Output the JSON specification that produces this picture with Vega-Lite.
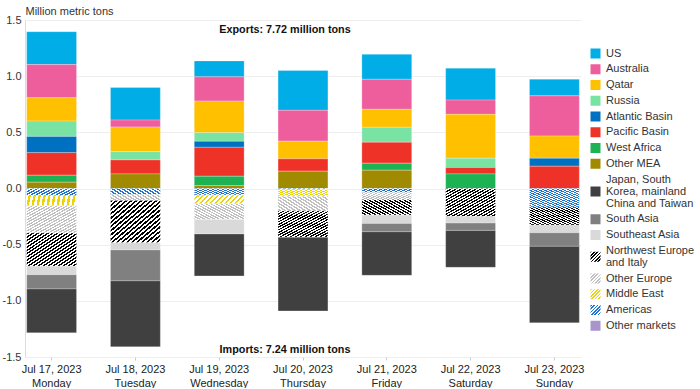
{
  "$schema": "https://vega.github.io/schema/vega-lite/v6.json",
  "width": 556,
  "height": 337,
  "padding": {"left": 2, "top": 5, "right": 0, "bottom": 0},
  "config": {
    "font": "Liberation Sans",
    "view": {"stroke": null},
    "axis": {"labelColor": "#333", "titleColor": "#333", "labelFontSize": 11},
    "legend": {"labelColor": "#333"}
  },
  "layer": [
    {
      "data": {
        "values": [
          {"date": "Jul 17, 2023|Monday", "region": "US", "value": 0.293},
          {"date": "Jul 17, 2023|Monday", "region": "Australia", "value": 0.296},
          {"date": "Jul 17, 2023|Monday", "region": "Qatar", "value": 0.207},
          {"date": "Jul 17, 2023|Monday", "region": "Russia", "value": 0.136},
          {"date": "Jul 17, 2023|Monday", "region": "Atlantic Basin", "value": 0.145},
          {"date": "Jul 17, 2023|Monday", "region": "Pacific Basin", "value": 0.201},
          {"date": "Jul 17, 2023|Monday", "region": "West Africa", "value": 0.062},
          {"date": "Jul 17, 2023|Monday", "region": "Other MEA", "value": 0.056},
          {"date": "Jul 17, 2023|Monday", "region": "Americas", "value": -0.065},
          {"date": "Jul 17, 2023|Monday", "region": "Middle East", "value": -0.086},
          {"date": "Jul 17, 2023|Monday", "region": "Other Europe", "value": -0.246},
          {"date": "Jul 17, 2023|Monday", "region": "Northwest Europe and Italy", "value": -0.296},
          {"date": "Jul 17, 2023|Monday", "region": "Southeast Asia", "value": -0.074},
          {"date": "Jul 17, 2023|Monday", "region": "South Asia", "value": -0.127},
          {"date": "Jul 17, 2023|Monday", "region": "Japan, South Korea, mainland China and Taiwan", "value": -0.391},
          {"date": "Jul 18, 2023|Tuesday", "region": "US", "value": 0.290},
          {"date": "Jul 18, 2023|Tuesday", "region": "Australia", "value": 0.062},
          {"date": "Jul 18, 2023|Tuesday", "region": "Qatar", "value": 0.219},
          {"date": "Jul 18, 2023|Tuesday", "region": "Russia", "value": 0.074},
          {"date": "Jul 18, 2023|Tuesday", "region": "Pacific Basin", "value": 0.124},
          {"date": "Jul 18, 2023|Tuesday", "region": "Other MEA", "value": 0.130},
          {"date": "Jul 18, 2023|Tuesday", "region": "Americas", "value": -0.053},
          {"date": "Jul 18, 2023|Tuesday", "region": "Other Europe", "value": -0.053},
          {"date": "Jul 18, 2023|Tuesday", "region": "Northwest Europe and Italy", "value": -0.376},
          {"date": "Jul 18, 2023|Tuesday", "region": "Southeast Asia", "value": -0.065},
          {"date": "Jul 18, 2023|Tuesday", "region": "South Asia", "value": -0.275},
          {"date": "Jul 18, 2023|Tuesday", "region": "Japan, South Korea, mainland China and Taiwan", "value": -0.587},
          {"date": "Jul 19, 2023|Wednesday", "region": "US", "value": 0.142},
          {"date": "Jul 19, 2023|Wednesday", "region": "Australia", "value": 0.216},
          {"date": "Jul 19, 2023|Wednesday", "region": "Qatar", "value": 0.281},
          {"date": "Jul 19, 2023|Wednesday", "region": "Russia", "value": 0.077},
          {"date": "Jul 19, 2023|Wednesday", "region": "Atlantic Basin", "value": 0.053},
          {"date": "Jul 19, 2023|Wednesday", "region": "Pacific Basin", "value": 0.258},
          {"date": "Jul 19, 2023|Wednesday", "region": "West Africa", "value": 0.083},
          {"date": "Jul 19, 2023|Wednesday", "region": "Other MEA", "value": 0.026},
          {"date": "Jul 19, 2023|Wednesday", "region": "Americas", "value": -0.059},
          {"date": "Jul 19, 2023|Wednesday", "region": "Middle East", "value": -0.074},
          {"date": "Jul 19, 2023|Wednesday", "region": "Other Europe", "value": -0.142},
          {"date": "Jul 19, 2023|Wednesday", "region": "Southeast Asia", "value": -0.130},
          {"date": "Jul 19, 2023|Wednesday", "region": "Japan, South Korea, mainland China and Taiwan", "value": -0.373},
          {"date": "Jul 20, 2023|Thursday", "region": "US", "value": 0.355},
          {"date": "Jul 20, 2023|Thursday", "region": "Australia", "value": 0.275},
          {"date": "Jul 20, 2023|Thursday", "region": "Qatar", "value": 0.157},
          {"date": "Jul 20, 2023|Thursday", "region": "Pacific Basin", "value": 0.110},
          {"date": "Jul 20, 2023|Thursday", "region": "Other MEA", "value": 0.154},
          {"date": "Jul 20, 2023|Thursday", "region": "Americas", "value": -0.008},
          {"date": "Jul 20, 2023|Thursday", "region": "Middle East", "value": -0.060},
          {"date": "Jul 20, 2023|Thursday", "region": "Other Europe", "value": -0.130},
          {"date": "Jul 20, 2023|Thursday", "region": "Northwest Europe and Italy", "value": -0.237},
          {"date": "Jul 20, 2023|Thursday", "region": "Japan, South Korea, mainland China and Taiwan", "value": -0.655},
          {"date": "Jul 21, 2023|Friday", "region": "US", "value": 0.222},
          {"date": "Jul 21, 2023|Friday", "region": "Australia", "value": 0.267},
          {"date": "Jul 21, 2023|Friday", "region": "Qatar", "value": 0.160},
          {"date": "Jul 21, 2023|Friday", "region": "Russia", "value": 0.133},
          {"date": "Jul 21, 2023|Friday", "region": "Pacific Basin", "value": 0.187},
          {"date": "Jul 21, 2023|Friday", "region": "West Africa", "value": 0.062},
          {"date": "Jul 21, 2023|Friday", "region": "Other MEA", "value": 0.163},
          {"date": "Jul 21, 2023|Friday", "region": "Americas", "value": -0.036},
          {"date": "Jul 21, 2023|Friday", "region": "Other Europe", "value": -0.062},
          {"date": "Jul 21, 2023|Friday", "region": "Northwest Europe and Italy", "value": -0.139},
          {"date": "Jul 21, 2023|Friday", "region": "Southeast Asia", "value": -0.074},
          {"date": "Jul 21, 2023|Friday", "region": "South Asia", "value": -0.074},
          {"date": "Jul 21, 2023|Friday", "region": "Japan, South Korea, mainland China and Taiwan", "value": -0.388},
          {"date": "Jul 22, 2023|Saturday", "region": "US", "value": 0.284},
          {"date": "Jul 22, 2023|Saturday", "region": "Australia", "value": 0.127},
          {"date": "Jul 22, 2023|Saturday", "region": "Qatar", "value": 0.391},
          {"date": "Jul 22, 2023|Saturday", "region": "Russia", "value": 0.083},
          {"date": "Jul 22, 2023|Saturday", "region": "Pacific Basin", "value": 0.056},
          {"date": "Jul 22, 2023|Saturday", "region": "West Africa", "value": 0.130},
          {"date": "Jul 22, 2023|Saturday", "region": "Northwest Europe and Italy", "value": -0.249},
          {"date": "Jul 22, 2023|Saturday", "region": "Southeast Asia", "value": -0.059},
          {"date": "Jul 22, 2023|Saturday", "region": "South Asia", "value": -0.065},
          {"date": "Jul 22, 2023|Saturday", "region": "Japan, South Korea, mainland China and Taiwan", "value": -0.329},
          {"date": "Jul 23, 2023|Sunday", "region": "US", "value": 0.148},
          {"date": "Jul 23, 2023|Sunday", "region": "Australia", "value": 0.358},
          {"date": "Jul 23, 2023|Sunday", "region": "Qatar", "value": 0.198},
          {"date": "Jul 23, 2023|Sunday", "region": "Atlantic Basin", "value": 0.071},
          {"date": "Jul 23, 2023|Sunday", "region": "Pacific Basin", "value": 0.198},
          {"date": "Jul 23, 2023|Sunday", "region": "Americas", "value": -0.166},
          {"date": "Jul 23, 2023|Sunday", "region": "Northwest Europe and Italy", "value": -0.160},
          {"date": "Jul 23, 2023|Sunday", "region": "Southeast Asia", "value": -0.068},
          {"date": "Jul 23, 2023|Sunday", "region": "South Asia", "value": -0.121},
          {"date": "Jul 23, 2023|Sunday", "region": "Japan, South Korea, mainland China and Taiwan", "value": -0.681}
        ]
      },
      "transform": [
        {"calculate": "indexof(['Other MEA','West Africa','Pacific Basin','Atlantic Basin','Russia','Qatar','Australia','US','Americas','Middle East','Other Europe','Northwest Europe and Italy','Southeast Asia','South Asia','Japan, South Korea, mainland China and Taiwan','Other markets'], datum.region)", "as": "ord"}
      ],
      "mark": {"type": "bar", "stroke": "#ffffff", "strokeWidth": 0.5, "strokeOpacity": 0.5},
      "encoding": {
        "x": {
          "field": "date", "type": "nominal", "sort": null,
          "scale": {"paddingInner": 0.405, "paddingOuter": 0.02},
          "axis": {"title": null, "labelExpr": "split(datum.label, '|')", "labelAngle": 0, "domain": false, "grid": false, "tickSize": 3, "tickColor": "#cccccc", "labelLineHeight": 14, "labelPadding": 3, "labelColor": "#222"}
        },
        "y": {
          "field": "value", "type": "quantitative", "stack": "zero",
          "scale": {"domain": [-1.5, 1.5], "nice": false},
          "axis": {"values": [-1.5, -1, -0.5, 0, 0.5, 1, 1.5], "labelExpr": "replace(format(datum.value, '.1f'), '\u2212', '-')", "title": "Million metric tons", "titleAngle": 0, "titleX": 0, "titleY": -4, "titleAlign": "left", "titleBaseline": "bottom", "titleFontWeight": "normal", "titleFontSize": 11, "ticks": false, "domain": true, "domainColor": "#dddddd", "gridColor": "#eeeeee", "labelPadding": 4}
        },
        "fill": {
          "field": "region", "type": "nominal",
          "condition": [
            {"test": "datum.region === 'Northwest Europe and Italy'", "value": {"gradient": "linear", "x1": 0, "y1": 0, "x2": 1, "y2": 1, "stops": [
                {"offset":0,"color":"#000"},{"offset":0.025,"color":"#000"},{"offset":0.025,"color":"#fff"},{"offset":0.05,"color":"#fff"},
                {"offset":0.05,"color":"#000"},{"offset":0.075,"color":"#000"},{"offset":0.075,"color":"#fff"},{"offset":0.1,"color":"#fff"},
                {"offset":0.1,"color":"#000"},{"offset":0.125,"color":"#000"},{"offset":0.125,"color":"#fff"},{"offset":0.15,"color":"#fff"},
                {"offset":0.15,"color":"#000"},{"offset":0.175,"color":"#000"},{"offset":0.175,"color":"#fff"},{"offset":0.2,"color":"#fff"},
                {"offset":0.2,"color":"#000"},{"offset":0.225,"color":"#000"},{"offset":0.225,"color":"#fff"},{"offset":0.25,"color":"#fff"},
                {"offset":0.25,"color":"#000"},{"offset":0.275,"color":"#000"},{"offset":0.275,"color":"#fff"},{"offset":0.3,"color":"#fff"},
                {"offset":0.3,"color":"#000"},{"offset":0.325,"color":"#000"},{"offset":0.325,"color":"#fff"},{"offset":0.35,"color":"#fff"},
                {"offset":0.35,"color":"#000"},{"offset":0.375,"color":"#000"},{"offset":0.375,"color":"#fff"},{"offset":0.4,"color":"#fff"},
                {"offset":0.4,"color":"#000"},{"offset":0.425,"color":"#000"},{"offset":0.425,"color":"#fff"},{"offset":0.45,"color":"#fff"},
                {"offset":0.45,"color":"#000"},{"offset":0.475,"color":"#000"},{"offset":0.475,"color":"#fff"},{"offset":0.5,"color":"#fff"},
                {"offset":0.5,"color":"#000"},{"offset":0.525,"color":"#000"},{"offset":0.525,"color":"#fff"},{"offset":0.55,"color":"#fff"},
                {"offset":0.55,"color":"#000"},{"offset":0.575,"color":"#000"},{"offset":0.575,"color":"#fff"},{"offset":0.6,"color":"#fff"},
                {"offset":0.6,"color":"#000"},{"offset":0.625,"color":"#000"},{"offset":0.625,"color":"#fff"},{"offset":0.65,"color":"#fff"},
                {"offset":0.65,"color":"#000"},{"offset":0.675,"color":"#000"},{"offset":0.675,"color":"#fff"},{"offset":0.7,"color":"#fff"},
                {"offset":0.7,"color":"#000"},{"offset":0.725,"color":"#000"},{"offset":0.725,"color":"#fff"},{"offset":0.75,"color":"#fff"},
                {"offset":0.75,"color":"#000"},{"offset":0.775,"color":"#000"},{"offset":0.775,"color":"#fff"},{"offset":0.8,"color":"#fff"},
                {"offset":0.8,"color":"#000"},{"offset":0.825,"color":"#000"},{"offset":0.825,"color":"#fff"},{"offset":0.85,"color":"#fff"},
                {"offset":0.85,"color":"#000"},{"offset":0.875,"color":"#000"},{"offset":0.875,"color":"#fff"},{"offset":0.9,"color":"#fff"},
                {"offset":0.9,"color":"#000"},{"offset":0.925,"color":"#000"},{"offset":0.925,"color":"#fff"},{"offset":0.95,"color":"#fff"},
                {"offset":0.95,"color":"#000"},{"offset":0.975,"color":"#000"},{"offset":0.975,"color":"#fff"},{"offset":1,"color":"#fff"}]}},
            {"test": "datum.region === 'Other Europe'", "value": {"gradient": "linear", "x1": 0, "y1": 0, "x2": 1, "y2": 1, "stops": [
                {"offset":0,"color":"#bfbfbf"},{"offset":0.025,"color":"#bfbfbf"},{"offset":0.025,"color":"#fff"},{"offset":0.05,"color":"#fff"},
                {"offset":0.05,"color":"#bfbfbf"},{"offset":0.075,"color":"#bfbfbf"},{"offset":0.075,"color":"#fff"},{"offset":0.1,"color":"#fff"},
                {"offset":0.1,"color":"#bfbfbf"},{"offset":0.125,"color":"#bfbfbf"},{"offset":0.125,"color":"#fff"},{"offset":0.15,"color":"#fff"},
                {"offset":0.15,"color":"#bfbfbf"},{"offset":0.175,"color":"#bfbfbf"},{"offset":0.175,"color":"#fff"},{"offset":0.2,"color":"#fff"},
                {"offset":0.2,"color":"#bfbfbf"},{"offset":0.225,"color":"#bfbfbf"},{"offset":0.225,"color":"#fff"},{"offset":0.25,"color":"#fff"},
                {"offset":0.25,"color":"#bfbfbf"},{"offset":0.275,"color":"#bfbfbf"},{"offset":0.275,"color":"#fff"},{"offset":0.3,"color":"#fff"},
                {"offset":0.3,"color":"#bfbfbf"},{"offset":0.325,"color":"#bfbfbf"},{"offset":0.325,"color":"#fff"},{"offset":0.35,"color":"#fff"},
                {"offset":0.35,"color":"#bfbfbf"},{"offset":0.375,"color":"#bfbfbf"},{"offset":0.375,"color":"#fff"},{"offset":0.4,"color":"#fff"},
                {"offset":0.4,"color":"#bfbfbf"},{"offset":0.425,"color":"#bfbfbf"},{"offset":0.425,"color":"#fff"},{"offset":0.45,"color":"#fff"},
                {"offset":0.45,"color":"#bfbfbf"},{"offset":0.475,"color":"#bfbfbf"},{"offset":0.475,"color":"#fff"},{"offset":0.5,"color":"#fff"},
                {"offset":0.5,"color":"#bfbfbf"},{"offset":0.525,"color":"#bfbfbf"},{"offset":0.525,"color":"#fff"},{"offset":0.55,"color":"#fff"},
                {"offset":0.55,"color":"#bfbfbf"},{"offset":0.575,"color":"#bfbfbf"},{"offset":0.575,"color":"#fff"},{"offset":0.6,"color":"#fff"},
                {"offset":0.6,"color":"#bfbfbf"},{"offset":0.625,"color":"#bfbfbf"},{"offset":0.625,"color":"#fff"},{"offset":0.65,"color":"#fff"},
                {"offset":0.65,"color":"#bfbfbf"},{"offset":0.675,"color":"#bfbfbf"},{"offset":0.675,"color":"#fff"},{"offset":0.7,"color":"#fff"},
                {"offset":0.7,"color":"#bfbfbf"},{"offset":0.725,"color":"#bfbfbf"},{"offset":0.725,"color":"#fff"},{"offset":0.75,"color":"#fff"},
                {"offset":0.75,"color":"#bfbfbf"},{"offset":0.775,"color":"#bfbfbf"},{"offset":0.775,"color":"#fff"},{"offset":0.8,"color":"#fff"},
                {"offset":0.8,"color":"#bfbfbf"},{"offset":0.825,"color":"#bfbfbf"},{"offset":0.825,"color":"#fff"},{"offset":0.85,"color":"#fff"},
                {"offset":0.85,"color":"#bfbfbf"},{"offset":0.875,"color":"#bfbfbf"},{"offset":0.875,"color":"#fff"},{"offset":0.9,"color":"#fff"},
                {"offset":0.9,"color":"#bfbfbf"},{"offset":0.925,"color":"#bfbfbf"},{"offset":0.925,"color":"#fff"},{"offset":0.95,"color":"#fff"},
                {"offset":0.95,"color":"#bfbfbf"},{"offset":0.975,"color":"#bfbfbf"},{"offset":0.975,"color":"#fff"},{"offset":1,"color":"#fff"}]}},
            {"test": "datum.region === 'Middle East'", "value": {"gradient": "linear", "x1": 0, "y1": 0, "x2": 1, "y2": 1, "stops": [
                {"offset":0,"color":"#ecd400"},{"offset":0.025,"color":"#ecd400"},{"offset":0.025,"color":"#fff"},{"offset":0.05,"color":"#fff"},
                {"offset":0.05,"color":"#ecd400"},{"offset":0.075,"color":"#ecd400"},{"offset":0.075,"color":"#fff"},{"offset":0.1,"color":"#fff"},
                {"offset":0.1,"color":"#ecd400"},{"offset":0.125,"color":"#ecd400"},{"offset":0.125,"color":"#fff"},{"offset":0.15,"color":"#fff"},
                {"offset":0.15,"color":"#ecd400"},{"offset":0.175,"color":"#ecd400"},{"offset":0.175,"color":"#fff"},{"offset":0.2,"color":"#fff"},
                {"offset":0.2,"color":"#ecd400"},{"offset":0.225,"color":"#ecd400"},{"offset":0.225,"color":"#fff"},{"offset":0.25,"color":"#fff"},
                {"offset":0.25,"color":"#ecd400"},{"offset":0.275,"color":"#ecd400"},{"offset":0.275,"color":"#fff"},{"offset":0.3,"color":"#fff"},
                {"offset":0.3,"color":"#ecd400"},{"offset":0.325,"color":"#ecd400"},{"offset":0.325,"color":"#fff"},{"offset":0.35,"color":"#fff"},
                {"offset":0.35,"color":"#ecd400"},{"offset":0.375,"color":"#ecd400"},{"offset":0.375,"color":"#fff"},{"offset":0.4,"color":"#fff"},
                {"offset":0.4,"color":"#ecd400"},{"offset":0.425,"color":"#ecd400"},{"offset":0.425,"color":"#fff"},{"offset":0.45,"color":"#fff"},
                {"offset":0.45,"color":"#ecd400"},{"offset":0.475,"color":"#ecd400"},{"offset":0.475,"color":"#fff"},{"offset":0.5,"color":"#fff"},
                {"offset":0.5,"color":"#ecd400"},{"offset":0.525,"color":"#ecd400"},{"offset":0.525,"color":"#fff"},{"offset":0.55,"color":"#fff"},
                {"offset":0.55,"color":"#ecd400"},{"offset":0.575,"color":"#ecd400"},{"offset":0.575,"color":"#fff"},{"offset":0.6,"color":"#fff"},
                {"offset":0.6,"color":"#ecd400"},{"offset":0.625,"color":"#ecd400"},{"offset":0.625,"color":"#fff"},{"offset":0.65,"color":"#fff"},
                {"offset":0.65,"color":"#ecd400"},{"offset":0.675,"color":"#ecd400"},{"offset":0.675,"color":"#fff"},{"offset":0.7,"color":"#fff"},
                {"offset":0.7,"color":"#ecd400"},{"offset":0.725,"color":"#ecd400"},{"offset":0.725,"color":"#fff"},{"offset":0.75,"color":"#fff"},
                {"offset":0.75,"color":"#ecd400"},{"offset":0.775,"color":"#ecd400"},{"offset":0.775,"color":"#fff"},{"offset":0.8,"color":"#fff"},
                {"offset":0.8,"color":"#ecd400"},{"offset":0.825,"color":"#ecd400"},{"offset":0.825,"color":"#fff"},{"offset":0.85,"color":"#fff"},
                {"offset":0.85,"color":"#ecd400"},{"offset":0.875,"color":"#ecd400"},{"offset":0.875,"color":"#fff"},{"offset":0.9,"color":"#fff"},
                {"offset":0.9,"color":"#ecd400"},{"offset":0.925,"color":"#ecd400"},{"offset":0.925,"color":"#fff"},{"offset":0.95,"color":"#fff"},
                {"offset":0.95,"color":"#ecd400"},{"offset":0.975,"color":"#ecd400"},{"offset":0.975,"color":"#fff"},{"offset":1,"color":"#fff"}]}},
            {"test": "datum.region === 'Americas'", "value": {"gradient": "linear", "x1": 0, "y1": 0, "x2": 1, "y2": 1, "stops": [
                {"offset":0,"color":"#1a73d0"},{"offset":0.025,"color":"#1a73d0"},{"offset":0.025,"color":"#fff"},{"offset":0.05,"color":"#fff"},
                {"offset":0.05,"color":"#1a73d0"},{"offset":0.075,"color":"#1a73d0"},{"offset":0.075,"color":"#fff"},{"offset":0.1,"color":"#fff"},
                {"offset":0.1,"color":"#1a73d0"},{"offset":0.125,"color":"#1a73d0"},{"offset":0.125,"color":"#fff"},{"offset":0.15,"color":"#fff"},
                {"offset":0.15,"color":"#1a73d0"},{"offset":0.175,"color":"#1a73d0"},{"offset":0.175,"color":"#fff"},{"offset":0.2,"color":"#fff"},
                {"offset":0.2,"color":"#1a73d0"},{"offset":0.225,"color":"#1a73d0"},{"offset":0.225,"color":"#fff"},{"offset":0.25,"color":"#fff"},
                {"offset":0.25,"color":"#1a73d0"},{"offset":0.275,"color":"#1a73d0"},{"offset":0.275,"color":"#fff"},{"offset":0.3,"color":"#fff"},
                {"offset":0.3,"color":"#1a73d0"},{"offset":0.325,"color":"#1a73d0"},{"offset":0.325,"color":"#fff"},{"offset":0.35,"color":"#fff"},
                {"offset":0.35,"color":"#1a73d0"},{"offset":0.375,"color":"#1a73d0"},{"offset":0.375,"color":"#fff"},{"offset":0.4,"color":"#fff"},
                {"offset":0.4,"color":"#1a73d0"},{"offset":0.425,"color":"#1a73d0"},{"offset":0.425,"color":"#fff"},{"offset":0.45,"color":"#fff"},
                {"offset":0.45,"color":"#1a73d0"},{"offset":0.475,"color":"#1a73d0"},{"offset":0.475,"color":"#fff"},{"offset":0.5,"color":"#fff"},
                {"offset":0.5,"color":"#1a73d0"},{"offset":0.525,"color":"#1a73d0"},{"offset":0.525,"color":"#fff"},{"offset":0.55,"color":"#fff"},
                {"offset":0.55,"color":"#1a73d0"},{"offset":0.575,"color":"#1a73d0"},{"offset":0.575,"color":"#fff"},{"offset":0.6,"color":"#fff"},
                {"offset":0.6,"color":"#1a73d0"},{"offset":0.625,"color":"#1a73d0"},{"offset":0.625,"color":"#fff"},{"offset":0.65,"color":"#fff"},
                {"offset":0.65,"color":"#1a73d0"},{"offset":0.675,"color":"#1a73d0"},{"offset":0.675,"color":"#fff"},{"offset":0.7,"color":"#fff"},
                {"offset":0.7,"color":"#1a73d0"},{"offset":0.725,"color":"#1a73d0"},{"offset":0.725,"color":"#fff"},{"offset":0.75,"color":"#fff"},
                {"offset":0.75,"color":"#1a73d0"},{"offset":0.775,"color":"#1a73d0"},{"offset":0.775,"color":"#fff"},{"offset":0.8,"color":"#fff"},
                {"offset":0.8,"color":"#1a73d0"},{"offset":0.825,"color":"#1a73d0"},{"offset":0.825,"color":"#fff"},{"offset":0.85,"color":"#fff"},
                {"offset":0.85,"color":"#1a73d0"},{"offset":0.875,"color":"#1a73d0"},{"offset":0.875,"color":"#fff"},{"offset":0.9,"color":"#fff"},
                {"offset":0.9,"color":"#1a73d0"},{"offset":0.925,"color":"#1a73d0"},{"offset":0.925,"color":"#fff"},{"offset":0.95,"color":"#fff"},
                {"offset":0.95,"color":"#1a73d0"},{"offset":0.975,"color":"#1a73d0"},{"offset":0.975,"color":"#fff"},{"offset":1,"color":"#fff"}]}}
          ],
          "scale": {
            "domain": ["US", "Australia", "Qatar", "Russia", "Atlantic Basin", "Pacific Basin", "West Africa", "Other MEA", "Japan, South Korea, mainland China and Taiwan", "South Asia", "Southeast Asia", "Northwest Europe and Italy", "Other Europe", "Middle East", "Americas", "Other markets"],
            "range": ["#00ade6", "#ef5e9c", "#ffc000", "#79e3a3", "#0070c0", "#ee3228", "#1db254", "#a08a00", "#404040", "#808080", "#d9d9d9",
              {"expr": "{gradient:'linear',x1:0,y1:0,x2:1,y2:1,stops:[{offset:0,color:'#000'},{offset:0.0833,color:'#000'},{offset:0.0833,color:'#fff'},{offset:0.1667,color:'#fff'},{offset:0.1667,color:'#000'},{offset:0.25,color:'#000'},{offset:0.25,color:'#fff'},{offset:0.3333,color:'#fff'},{offset:0.3333,color:'#000'},{offset:0.4167,color:'#000'},{offset:0.4167,color:'#fff'},{offset:0.5,color:'#fff'},{offset:0.5,color:'#000'},{offset:0.5833,color:'#000'},{offset:0.5833,color:'#fff'},{offset:0.6667,color:'#fff'},{offset:0.6667,color:'#000'},{offset:0.75,color:'#000'},{offset:0.75,color:'#fff'},{offset:0.8333,color:'#fff'},{offset:0.8333,color:'#000'},{offset:0.9167,color:'#000'},{offset:0.9167,color:'#fff'},{offset:1,color:'#fff'}]}"},
              {"expr": "{gradient:'linear',x1:0,y1:0,x2:1,y2:1,stops:[{offset:0,color:'#bfbfbf'},{offset:0.0833,color:'#bfbfbf'},{offset:0.0833,color:'#fff'},{offset:0.1667,color:'#fff'},{offset:0.1667,color:'#bfbfbf'},{offset:0.25,color:'#bfbfbf'},{offset:0.25,color:'#fff'},{offset:0.3333,color:'#fff'},{offset:0.3333,color:'#bfbfbf'},{offset:0.4167,color:'#bfbfbf'},{offset:0.4167,color:'#fff'},{offset:0.5,color:'#fff'},{offset:0.5,color:'#bfbfbf'},{offset:0.5833,color:'#bfbfbf'},{offset:0.5833,color:'#fff'},{offset:0.6667,color:'#fff'},{offset:0.6667,color:'#bfbfbf'},{offset:0.75,color:'#bfbfbf'},{offset:0.75,color:'#fff'},{offset:0.8333,color:'#fff'},{offset:0.8333,color:'#bfbfbf'},{offset:0.9167,color:'#bfbfbf'},{offset:0.9167,color:'#fff'},{offset:1,color:'#fff'}]}"},
              {"expr": "{gradient:'linear',x1:0,y1:0,x2:1,y2:1,stops:[{offset:0,color:'#ecd400'},{offset:0.0833,color:'#ecd400'},{offset:0.0833,color:'#fff'},{offset:0.1667,color:'#fff'},{offset:0.1667,color:'#ecd400'},{offset:0.25,color:'#ecd400'},{offset:0.25,color:'#fff'},{offset:0.3333,color:'#fff'},{offset:0.3333,color:'#ecd400'},{offset:0.4167,color:'#ecd400'},{offset:0.4167,color:'#fff'},{offset:0.5,color:'#fff'},{offset:0.5,color:'#ecd400'},{offset:0.5833,color:'#ecd400'},{offset:0.5833,color:'#fff'},{offset:0.6667,color:'#fff'},{offset:0.6667,color:'#ecd400'},{offset:0.75,color:'#ecd400'},{offset:0.75,color:'#fff'},{offset:0.8333,color:'#fff'},{offset:0.8333,color:'#ecd400'},{offset:0.9167,color:'#ecd400'},{offset:0.9167,color:'#fff'},{offset:1,color:'#fff'}]}"},
              {"expr": "{gradient:'linear',x1:0,y1:0,x2:1,y2:1,stops:[{offset:0,color:'#1a73d0'},{offset:0.0833,color:'#1a73d0'},{offset:0.0833,color:'#fff'},{offset:0.1667,color:'#fff'},{offset:0.1667,color:'#1a73d0'},{offset:0.25,color:'#1a73d0'},{offset:0.25,color:'#fff'},{offset:0.3333,color:'#fff'},{offset:0.3333,color:'#1a73d0'},{offset:0.4167,color:'#1a73d0'},{offset:0.4167,color:'#fff'},{offset:0.5,color:'#fff'},{offset:0.5,color:'#1a73d0'},{offset:0.5833,color:'#1a73d0'},{offset:0.5833,color:'#fff'},{offset:0.6667,color:'#fff'},{offset:0.6667,color:'#1a73d0'},{offset:0.75,color:'#1a73d0'},{offset:0.75,color:'#fff'},{offset:0.8333,color:'#fff'},{offset:0.8333,color:'#1a73d0'},{offset:0.9167,color:'#1a73d0'},{offset:0.9167,color:'#fff'},{offset:1,color:'#fff'}]}"},
              "#a994cc"]
          },
          "legend": {
            "title": null, "orient": "none", "legendX": 565, "legendY": 28,
            "symbolType": "square", "symbolSize": 100, "symbolStrokeWidth": 0,
            "labelFontSize": 11, "rowPadding": 3.75, "labelOffset": 5, "labelLimit": 200,
            "labelExpr": "datum.label == 'Japan, South Korea, mainland China and Taiwan' ? ['Japan, South', 'Korea, mainland', 'China and Taiwan'] : datum.label == 'Northwest Europe and Italy' ? ['Northwest Europe', 'and Italy'] : datum.label",
            "encoding": {
              "labels": {
                "lineHeight": {"value": 12},
                "dy": {"condition": [
                  {"test": "datum.value === 'Japan, South Korea, mainland China and Taiwan'", "value": -12},
                  {"test": "datum.value === 'Northwest Europe and Italy'", "value": -6}
                ], "value": 0}
              }
            }
          }
        },
        "order": {"field": "ord", "type": "quantitative"}
      }
    },
    {
      "data": {"values": [{}]},
      "mark": {"type": "text", "fontWeight": "bold", "fontSize": 10.8, "color": "#111", "dx": -18, "baseline": "middle"},
      "encoding": {
        "x": {"datum": "Jul 20, 2023|Thursday"},
        "y": {"datum": 1.415},
        "text": {"value": "Exports: 7.72 million tons"}
      }
    },
    {
      "data": {"values": [{}]},
      "mark": {"type": "text", "fontWeight": "bold", "fontSize": 10.8, "color": "#111", "dx": -18, "baseline": "middle"},
      "encoding": {
        "x": {"datum": "Jul 20, 2023|Thursday"},
        "y": {"datum": -1.436},
        "text": {"value": "Imports: 7.24 million tons"}
      }
    }
  ]
}
